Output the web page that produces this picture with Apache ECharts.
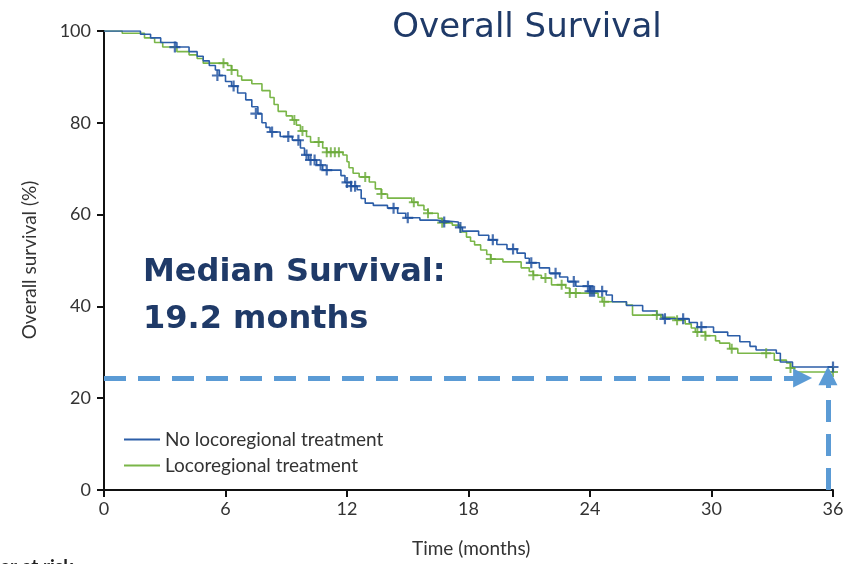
<!DOCTYPE html>
<html>
<head>
<meta charset="utf-8">
<script src="https://cdn.jsdelivr.net/npm/echarts@6/dist/echarts.min.js"></script>
<style>
  html, body { margin: 0; padding: 0; background: #fff; }
  #chart { width: 851px; height: 564px; }
</style>
</head>
<body>
<div id="chart"></div>
<script>
// Kaplan-Meier overall survival, two treatment groups (months, % surviving)
const seriesNames = ['No locoregional treatment', 'Locoregional treatment'];

const noLocoSteps = [
  [0,100],[1.8,99.3],[2.3,98.5],[2.8,97.5],[3.6,96.5],[4.2,95.5],[4.6,94.5],[4.9,93.5],
  [5.2,92.5],[5.5,91.5],[5.7,90.3],[6.0,89],[6.3,88],[6.6,86.5],[7.0,85],[7.3,83.5],
  [7.6,82],[7.8,80],[8.0,79],[8.2,78],[8.7,77],[9.3,76.2],[9.7,74.5],[9.9,73],
  [10.1,71.9],[10.5,70.8],[10.8,69.7],[11.7,68.5],[11.9,67],[12.2,66.2],[12.5,65.4],
  [12.7,63.5],[12.9,62.5],[13.3,62],[14.0,61.4],[14.5,60.3],[14.9,59.3],[15.6,58.8],
  [16.4,58.4],[17.5,57.2],[17.7,56.4],[18.5,55.5],[19.0,54.5],[19.4,53.5],[19.9,52.5],
  [20.4,51.6],[20.8,50.5],[21.0,49.5],[21.5,48.4],[22.0,47.2],[22.5,46.4],[22.9,45.4],
  [23.3,44.4],[24.0,43.3],[24.8,42.5],[25.1,41],[25.8,40.2],[26.6,39],[27.3,38.2],
  [27.6,37.3],[28.9,36.5],[29.3,35.5],[30.1,34.4],[30.8,33.6],[31.4,32.3],[31.9,31.3],
  [32.2,30.5],[33.2,29.8],[33.4,27.9],[34.0,26.8],[36,26.8]
];
const noLocoCensored = [
  [3.5,96.5],[5.6,90.3],[6.4,88],[7.5,82],[8.3,78],[9.1,77],[9.6,76.2],[10.0,73],
  [10.2,71.9],[10.4,71.9],[10.7,70.8],[11.0,69.7],[12.0,67],[12.2,66.2],[12.4,66.2],
  [14.3,61.4],[15.0,59.3],[16.8,58.4],[17.6,57.2],[19.2,54.5],[20.2,52.5],[21.1,49.5],
  [22.3,47.2],[23.2,45.4],[23.9,44.4],[24.0,43.3],[24.1,43.3],[24.2,43.3],[24.6,43.3],
  [27.7,37.3],[28.6,37.3],[29.5,35.5],[36,26.8]
];

const locoSteps = [
  [0,100],[0.9,99.5],[2.0,98.5],[2.5,97.5],[2.9,96.5],[3.6,95.5],[4.2,94.8],[4.6,94],
  [4.9,93],[6.1,92.5],[6.3,91.5],[6.6,90.2],[6.8,89.3],[7.3,88.5],[7.8,87],[8.2,85.5],
  [8.4,84],[8.6,82.5],[9.0,81.5],[9.3,80.6],[9.5,79.5],[9.7,78.2],[10.0,77],[10.2,75.8],
  [10.8,74.5],[11.0,73.6],[11.8,73],[12.0,71.5],[12.1,70.2],[12.3,69],[12.6,68.2],
  [13.1,67.1],[13.4,65.6],[13.7,64.5],[14.0,63.6],[15.2,62.7],[15.5,62],[15.8,61],
  [16.0,60.3],[16.5,59.2],[16.7,58.2],[17.2,57.7],[17.6,56.2],[17.9,55.1],[18.1,54.2],
  [18.3,53.4],[18.6,52.3],[18.9,51.3],[19.1,50.3],[19.7,49.7],[20.6,48.4],[21.0,47.6],
  [21.2,46.8],[21.6,46.2],[22.1,44.7],[22.8,44.0],[23.0,42.9],[24.4,42.0],[24.6,41.0],
  [25.8,40.3],[26.1,38.1],[27.5,37.6],[28.2,37.0],[28.7,36.2],[29.0,35.3],[29.2,34.4],
  [29.7,33.6],[30.2,32.5],[30.4,32.0],[30.9,30.8],[31.3,29.8],[33.1,28.3],[33.7,27.7],
  [33.9,26.6],[34.1,25.7],[36,25.7]
];
const locoCensored = [
  [5.9,93],[6.3,91.5],[9.4,80.6],[9.8,78.2],[10.6,75.8],[11.0,73.6],[11.2,73.6],
  [11.4,73.6],[11.6,73.6],[12.9,68.2],[13.7,64.5],[15.3,62.7],[16.0,60.3],[16.7,58.2],
  [19.1,50.3],[21.2,46.8],[21.8,46.2],[22.6,44.7],[23.0,42.9],[23.3,42.9],[24.7,41.0],
  [27.3,38.1],[28.3,37.0],[29.3,34.4],[29.7,33.6],[31.0,30.8],[32.7,29.8],[33.9,26.6],
  [36,25.7]
];

// Survival at 36 months, highlighted by the dashed arrows
const guideLevel = 24.4;
const guideTime = 35.75;

const xTicks = { min: 0, max: 36, interval: 6 };
const yTicks = { min: 0, max: 100, interval: 20 };

const blue = '#2c5ea8';
const blueMark = '#1d4f9e';
const green = '#7ab648';
const greenMark = '#6aaa3a';
const arrowBlue = '#5b9bd5';
const navy = '#1f3a68';
const plusSymbol = 'path://M4,0h2v10h-2z M0,4h10v2h-10z';

const axisCommon = {
  type: 'value',
  axisLine: { show: true, lineStyle: { color: '#111', width: 2 } },
  axisTick: { show: true, length: 7, lineStyle: { color: '#111', width: 2 } },
  splitLine: { show: false },
  axisLabel: { color: '#333', fontSize: 18, fontFamily: 'Lato', margin: 10 }
};

const chart = echarts.init(document.getElementById('chart'), null, { renderer: 'canvas' });
chart.setOption({
  animation: false,
  backgroundColor: '#fff',
  grid: { left: 104, right: 18, top: 31, bottom: 74 },
  xAxis: Object.assign({}, axisCommon, xTicks),
  yAxis: Object.assign({}, axisCommon, yTicks, { axisLabel: Object.assign({}, axisCommon.axisLabel, { margin: 13 }) }),
  legend: {
    data: seriesNames,
    orient: 'vertical',
    left: 119, top: 425,
    icon: 'rect',
    itemWidth: 36, itemHeight: 2, itemGap: 7,
    textStyle: { color: '#333', fontSize: 19, fontFamily: 'Lato' }
  },
  title: {
    text: 'Overall Survival',
    left: 522, top: 6, textAlign: 'center',
    textStyle: { color: navy, fontSize: 34, fontWeight: 'normal', fontFamily: 'DejaVu Sans' }
  },
  graphic: [
    { type: 'text', left: 143, top: 257, style: { text: 'Median Survival:', fill: navy, font: 'bold 32px "DejaVu Sans"' } },
    { type: 'text', left: 143, top: 304, style: { text: '19.2 months', fill: navy, font: 'bold 32px "DejaVu Sans"' } },
    { type: 'text', left: 412, top: 539, style: { text: 'Time (months)', fill: '#333', font: '19px Lato' } },
    { type: 'text', x: 30, y: 260, rotation: Math.PI / 2, style: { text: 'Overall survival (%)', fill: '#333', font: '19px Lato', textAlign: 'center', textVerticalAlign: 'middle' } },
    { type: 'text', left: -52, top: 557, style: { text: 'Number at risk', fill: '#222', font: 'bold 19px Lato' } }
  ],
  series: [
    {
      name: seriesNames[0], type: 'line', step: 'end', data: noLocoSteps,
      showSymbol: false, lineStyle: { color: blue, width: 1.6 }, itemStyle: { color: blue }, z: 3
    },
    {
      name: seriesNames[1], type: 'line', step: 'end', data: locoSteps,
      showSymbol: false, lineStyle: { color: green, width: 1.6 }, itemStyle: { color: green }, z: 2
    },
    {
      name: 'noLocoCensor', type: 'scatter', data: noLocoCensored,
      symbol: plusSymbol, symbolSize: 11, itemStyle: { color: blueMark }, z: 5
    },
    {
      name: 'locoCensor', type: 'scatter', data: locoCensored,
      symbol: plusSymbol, symbolSize: 10, itemStyle: { color: greenMark }, z: 4
    },
    {
      name: 'guide', type: 'line', data: [], z: 6,
      markLine: {
        silent: true,
        symbol: ['none', 'triangle'],
        symbolSize: 19,
        label: { show: false },
        lineStyle: { color: arrowBlue, width: 5, type: [22, 12] },
        data: [
          [{ coord: [0, guideLevel] }, { coord: [34.5, guideLevel] }],
          [{ coord: [guideTime, 0] }, { coord: [guideTime, 24.9] }]
        ]
      }
    }
  ]
});
</script>
</body>
</html>
